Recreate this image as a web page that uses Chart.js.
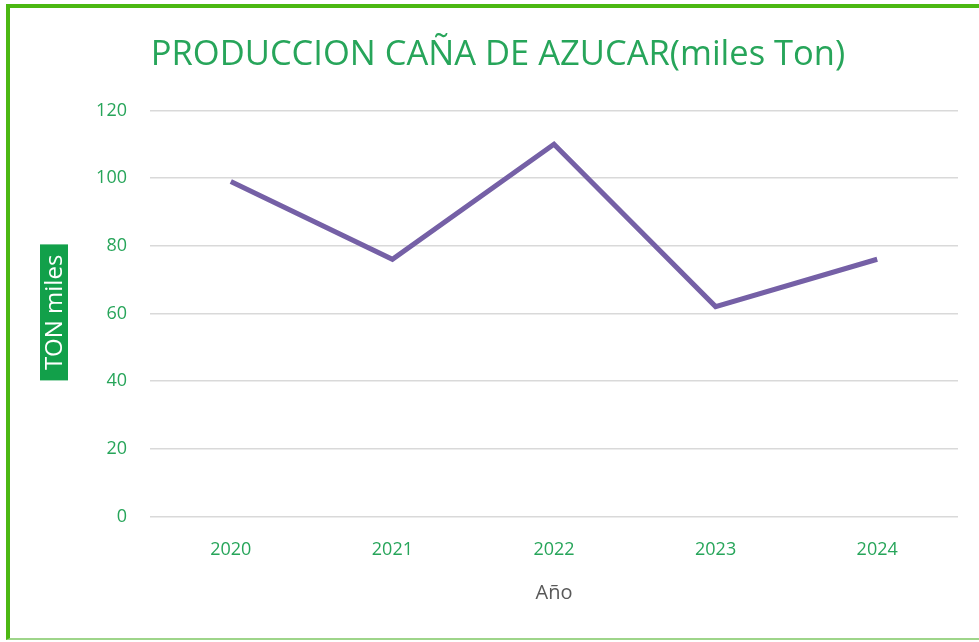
<!DOCTYPE html>
<html>
<head>
<meta charset="utf-8">
<script src="https://cdn.jsdelivr.net/npm/chart.js@4.4.0/dist/chart.umd.min.js"></script>
<style>
  html, body { margin: 0; padding: 0; background: #fff; overflow: hidden; }
  #frame {
    position: absolute; left: 6px; top: 4px; width: 990px; height: 636px;
    border-top: 4px solid #4cb812; border-left: 4px solid #4cb812;
    border-bottom: 2px solid #9ed58a; box-sizing: border-box;
  }
  #wrap { position: absolute; left: 0; top: 0; width: 979px; height: 642px; }
</style>
</head>
<body>
<div id="frame"></div>
<div id="wrap"><canvas id="chart" width="979" height="642"></canvas></div>
<script>
// data
const years = ['2020', '2021', '2022', '2023', '2024'];
const production = [99, 76, 110, 62, 76];
const yTicks = [0, 20, 40, 60, 80, 100, 120];

const green = '#27a55a';

// green box behind the rotated y axis title
const yTitleBox = {
    id: 'yTitleBox',
    afterDraw(chart) {
        const ctx = chart.ctx;
        const area = chart.chartArea;
        const cx = 54;
        const cy = (area.top + area.bottom) / 2 - 1;
        ctx.save();
        ctx.fillStyle = '#12a04a';
        ctx.fillRect(cx - 14, cy - 68, 28, 136);
        ctx.translate(cx, cy);
        ctx.rotate(-Math.PI / 2);
        ctx.fillStyle = '#ffffff';
        ctx.font = '24px "Open Sans", sans-serif';
        ctx.textAlign = 'center';
        ctx.textBaseline = 'middle';
        ctx.fillText('TON miles', 0, 1);
        ctx.restore();
    }
};

new Chart(document.getElementById('chart'), {
    type: 'line',
    data: {
        labels: years,
        datasets: [{
            data: production,
            borderColor: '#7560a6',
            borderWidth: 5,
            pointRadius: 0,
            tension: 0,
            fill: false
        }]
    },
    options: {
        responsive: false,
        animation: false,
        layout: { padding: { left: 38, right: 21, top: 14, bottom: 33 } },
        plugins: {
            legend: { display: false },
            tooltip: { enabled: false },
            title: {
                display: true,
                text: 'PRODUCCION CAÑA DE AZUCAR(miles Ton)',
                color: green,
                font: { family: '"Open Sans", sans-serif', size: 34.5, weight: 'normal' },
                padding: { top: 20, bottom: 35 }
            }
        },
        scales: {
            x: {
                offset: true,
                grid: { display: false, drawTicks: false },
                border: { display: false },
                ticks: {
                    color: green,
                    font: { family: '"Open Sans", sans-serif', size: 18 },
                    padding: 23
                },
                title: {
                    display: true,
                    text: 'Año',
                    color: '#595959',
                    font: { family: '"Open Sans", sans-serif', size: 20 },
                    padding: { top: -3 }
                }
            },
            y: {
                min: 0,
                max: 120,
                afterBuildTicks(scale) {
                    scale.ticks = yTicks.map(v => ({ value: v }));
                },
                afterFit(scale) { scale.width = 112; },
                grid: { color: '#d9d9d9', lineWidth: 1.5, drawTicks: false },
                border: { display: false },
                ticks: {
                    color: green,
                    font: { family: '"Open Sans", sans-serif', size: 18 },
                    padding: 23
                }
            }
        }
    },
    plugins: [yTitleBox]
});
</script>
</body>
</html>
